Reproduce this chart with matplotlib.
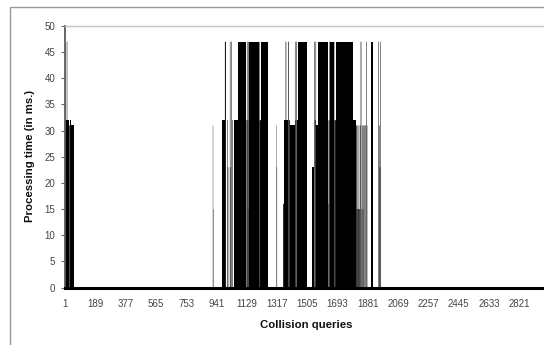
import matplotlib
matplotlib.use("Agg")
import matplotlib.pyplot as plt
from matplotlib.patches import Rectangle
import numpy as np

# ---- data: runs of processing time (query range -> ms) ----
run_start = [1, 12, 15, 24, 30, 40,
             919, 922,
             979, 994,
             1008, 1012,
             1025, 1029, 1034,
             1041,
             1051, 1076,
             1128, 1131, 1134, 1137, 1139, 1142,
             1146,
             1206, 1209, 1212,
             1218,
             1313, 1316,
             1356, 1362, 1371, 1375, 1387, 1391, 1397, 1429, 1432, 1437, 1440,
             1449,
             1536, 1549, 1552, 1557, 1560,
             1573,
             1636, 1638, 1641, 1644, 1647,
             1672, 1675, 1677,
             1683,
             1792, 1806, 1812, 1815, 1817, 1820, 1822, 1826, 1828,
             1833, 1836, 1840, 1843, 1847, 1851, 1854,
             1860, 1865, 1871, 1875,
             1901,
             1947, 1951, 1955, 1959]
run_end = [11, 14, 23, 29, 39, 58,
           920, 923,
           993, 999,
           1010, 1014,
           1027, 1031, 1036,
           1043,
           1075, 1127,
           1130, 1133, 1136, 1138, 1141, 1145,
           1205,
           1208, 1211, 1217,
           1263,
           1314, 1317,
           1361, 1370, 1374, 1386, 1390, 1396, 1428, 1431, 1436, 1439, 1448,
           1501,
           1548, 1551, 1556, 1559, 1572,
           1635,
           1637, 1640, 1643, 1646, 1671,
           1674, 1676, 1682,
           1791,
           1805, 1811, 1814, 1816, 1819, 1821, 1825, 1827, 1831,
           1834, 1838, 1841, 1845, 1849, 1852, 1856,
           1862, 1867, 1873, 1877,
           1914,
           1949, 1953, 1958, 1961]
run_value = [32, 47, 32, 31, 32, 31,
             31, 15,
             32, 47,
             32, 23,
             47, 23, 47,
             32,
             32, 47,
             32, 47, 32, 15, 47, 32,
             47,
             32, 47, 32,
             47,
             31, 23,
             16, 32, 47, 32, 47, 32, 31, 47, 32, 47, 32,
             47,
             23, 47, 32, 47, 31,
             47,
             16, 32, 47, 32, 47,
             32, 47, 32,
             47,
             32, 31, 15, 31, 15, 31, 15, 31, 15,
             47, 31, 47, 15, 31, 15, 31,
             31, 31, 47, 31,
             47,
             47, 31, 23, 47]

n_queries = 2975
x_ticks = list(range(1, 2822, 188))
y_ticks = list(range(0, 51, 5))

W, H = 544, 345
fig = plt.figure(figsize=(W / 100, H / 100), dpi=100)
plt.rcParams['font.family'] = ['Liberation Sans', 'DejaVu Sans']

# chart area border (cut at right / bottom like the reference)
fig.patches.append(Rectangle((10 / W, -0.05), 1.2, 1 - 7 / H + 0.05,
                             transform=fig.transFigure, fill=False,
                             edgecolor='#9a9a9a', linewidth=1.0))

left, right = 65 / W, 1.0
top, bottom = 1 - 26 / H, 1 - 287.5 / H
ax = fig.add_axes([left, bottom, right - left, top - bottom])

starts = np.array(run_start)
ends = np.array(run_end)
vals = np.array(run_value)
widths = ends - starts + 1
bars = ax.bar(starts - 0.5, vals, width=widths, align='edge',
              color='black', linewidth=0, antialiased=True)
# thin runs (below ~1.5 px) drawn unsnapped so they render as grey hairlines
for b, w in zip(bars, widths):
    b.set_snap(bool(w >= 9))

ax.set_xlim(0.5, n_queries)
ax.set_ylim(0, 50)
ax.set_yticks(y_ticks)
ax.set_xticks(x_ticks)
ax.set_xticklabels([str(t) for t in x_ticks])

ax.tick_params(axis='y', length=3, width=0.8, color='#666666', pad=4,
               labelsize=7, labelcolor='#444444')
ax.tick_params(axis='x', length=0, pad=8, labelsize=7, labelcolor='#444444')

ax.spines['right'].set_visible(False)
ax.spines['top'].set_color('#c4c4c4')
ax.spines['top'].set_linewidth(1.0)
ax.spines['left'].set_color('#5a5a5a')
ax.spines['left'].set_linewidth(1.3)
ax.spines['bottom'].set_color('black')
ax.spines['bottom'].set_linewidth(2.2)

fig.text(30 / W, 1 - 156 / H, 'Processing time (in ms.)', rotation=90,
         ha='center', va='center', fontsize=8.2, fontweight='bold', color='#111111')
fig.text(306 / W, 1 - 325 / H, 'Collision queries', ha='center', va='center',
         fontsize=8.2, fontweight='bold', color='#111111')

fig.savefig('out.png', dpi=100)
